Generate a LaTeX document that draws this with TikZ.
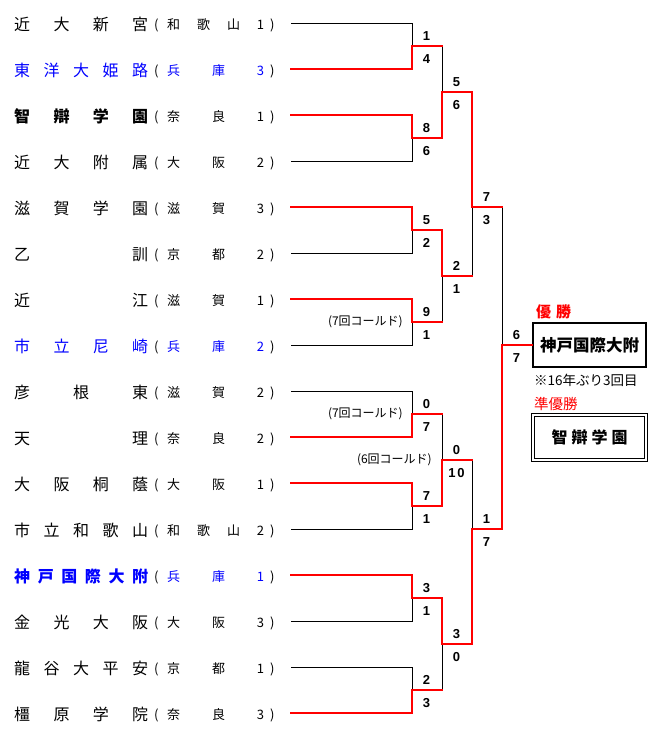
\documentclass[tikz,border=0pt]{standalone}
\usepackage{fontspec}
\newfontfamily\jp{Noto Sans CJK JP}
\newfontfamily\numf{Liberation Sans}
\definecolor{wred}{RGB}{255,0,0}
\definecolor{wblue}{RGB}{0,0,255}
\tikzset{
  lose/.style={draw=black, line width=1pt},
  win/.style={draw=wred, line width=2pt, line cap=rect},
  score/.style={font=\numf\bfseries\fontsize{13}{13}\selectfont, inner sep=0pt, anchor=center},
  tname/.style={font=\jp\fontsize{16}{16}\selectfont, inner sep=0pt, anchor=base west},
  tnameb/.style={font=\jp\bfseries\fontsize{16}{16}\selectfont, inner sep=0pt, anchor=base west},
  tpref/.style={font=\jp\fontsize{13}{13}\selectfont, inner sep=0pt, anchor=base west},
  cold/.style={font=\jp\fontsize{12}{12}\selectfont, inner sep=0pt, anchor=east},
  champbox/.style={draw=black, line width=2pt, minimum width=113pt, minimum height=44pt, inner sep=0pt,
    font=\jp\bfseries\fontsize{16.5}{16.5}\selectfont},
  runnerbox/.style={draw=black, double, double distance=2pt, line width=1pt, minimum width=113pt,
    minimum height=45pt, inner sep=0pt, font=\jp\bfseries\fontsize{16}{16}\selectfont},
}
\newcommand\teamrow[6]{%
  \node[#6, text=#5] (n#1) at (14,#2+7.5) {\makebox[134pt][s]{#3}};
  \node[tpref] (p#1) at (154,#2+6.5) {\makebox[13pt][l]{(}\textcolor{#5}{\makebox[97pt][s]{#4}}\hspace{6pt})};
  \coordinate (s#1) at (291,#2);
}
\newcommand\scorepair[3]{%
  \node[score] (#1u) at ([shift={(14.5,-10)}]#1) {#2};
  \node[score] (#1d) at ([shift={(14.5,13)}]#1) {#3};
}
\begin{document}
\begin{tikzpicture}[x=1pt,y=-1pt]
\useasboundingbox (0,0) rectangle (666,742);
\fill[white] (0,0) rectangle (666,742);

\teamrow{1}{23}{近\hfil 大\hfil 新\hfil 宮}{和\hfil 歌\hfil 山\hfil 1}{black}{tname}
\teamrow{2}{69}{東\hfil 洋\hfil 大\hfil 姫\hfil 路}{兵\hfil 庫\hfil 3}{wblue}{tname}
\teamrow{3}{115}{智\hfil 辯\hfil 学\hfil 園}{奈\hfil 良\hfil 1}{black}{tnameb}
\teamrow{4}{161}{近\hfil 大\hfil 附\hfil 属}{大\hfil 阪\hfil 2}{black}{tname}
\teamrow{5}{207}{滋\hfil 賀\hfil 学\hfil 園}{滋\hfil 賀\hfil 3}{black}{tname}
\teamrow{6}{253}{乙\hfil 訓}{京\hfil 都\hfil 2}{black}{tname}
\teamrow{7}{299}{近\hfil 江}{滋\hfil 賀\hfil 1}{black}{tname}
\teamrow{8}{345}{市\hfil 立\hfil 尼\hfil 崎}{兵\hfil 庫\hfil 2}{wblue}{tname}
\teamrow{9}{391}{彦\hfil 根\hfil 東}{滋\hfil 賀\hfil 2}{black}{tname}
\teamrow{10}{437}{天\hfil 理}{奈\hfil 良\hfil 2}{black}{tname}
\teamrow{11}{483}{大\hfil 阪\hfil 桐\hfil 蔭}{大\hfil 阪\hfil 1}{black}{tname}
\teamrow{12}{529}{市\hfil 立\hfil 和\hfil 歌\hfil 山}{和\hfil 歌\hfil 山\hfil 2}{black}{tname}
\teamrow{13}{575}{神\hfil 戸\hfil 国\hfil 際\hfil 大\hfil 附}{兵\hfil 庫\hfil 1}{wblue}{tnameb}
\teamrow{14}{621}{金\hfil 光\hfil 大\hfil 阪}{大\hfil 阪\hfil 3}{black}{tname}
\teamrow{15}{667}{龍\hfil 谷\hfil 大\hfil 平\hfil 安}{京\hfil 都\hfil 1}{black}{tname}
\teamrow{16}{713}{橿\hfil 原\hfil 学\hfil 院}{奈\hfil 良\hfil 3}{black}{tname}

% junctions
\coordinate (a1) at (412,46);  \coordinate (a2) at (412,138);
\coordinate (a3) at (412,230); \coordinate (a4) at (412,322);
\coordinate (a5) at (412,414); \coordinate (a6) at (412,506);
\coordinate (a7) at (412,598); \coordinate (a8) at (412,690);
\coordinate (b1) at (442,92);  \coordinate (b2) at (442,276);
\coordinate (b3) at (442,460); \coordinate (b4) at (442,644);
\coordinate (c1) at (472,207); \coordinate (c2) at (472,529);
\coordinate (f) at (502,345);

% boxes
\node[champbox] (champ) at (589.5,345) {神戸国際大附};
\node[font=\jp\bfseries\fontsize{15}{15}\selectfont, text=wred, inner sep=0pt, anchor=west] (yusho) at (536,312) {優\hspace{5pt}勝};
\node[font=\jp\fontsize{13.5}{13.5}\selectfont, inner sep=0pt, anchor=west] (note) at (534,380) {※16年ぶり3回目};
\node[font=\jp\fontsize{14.5}{14.5}\selectfont, text=wred, inner sep=0pt, anchor=west] (jun) at (534,404) {準優勝};
\node[runnerbox] (runner) at (589.5,437.5) {\makebox[76pt][s]{智\hfil 辯\hfil 学\hfil 園}};

% round 1 losers
\draw[lose] (s1) -| (a1);
\draw[lose] (s4) -| (a2);
\draw[lose] (s6) -| (a3);
\draw[lose] (s8) -| (a4);
\draw[lose] (s9) -| (a5);
\draw[lose] (s12) -| (a6);
\draw[lose] (s14) -| (a7);
\draw[lose] (s15) -| (a8);
% round 2 losers
\draw[lose] (a1 -| b1) -- (b1);
\draw[lose] (a4 -| b2) -- (b2);
\draw[lose] (a5 -| b3) -- (b3);
\draw[lose] (a8 -| b4) -- (b4);
% round 3 losers
\draw[lose] (b2 -| c1) -- (c1);
\draw[lose] (b3 -| c2) -- (c2);
% final loser
\draw[lose] (c1 -| f) -- (f);

% round 1 winners
\draw[win] (s2) -| (a1) -- (a1 -| b1);
\draw[win] (s3) -| (a2) -- (a2 -| b1);
\draw[win] (s5) -| (a3) -- (a3 -| b2);
\draw[win] (s7) -| (a4) -- (a4 -| b2);
\draw[win] (s10) -| (a5) -- (a5 -| b3);
\draw[win] (s11) -| (a6) -- (a6 -| b3);
\draw[win] (s13) -| (a7) -- (a7 -| b4);
\draw[win] (s16) -| (a8) -- (a8 -| b4);
% round 2 winners
\draw[win] (a2 -| b1) -- (b1) -- (b1 -| c1);
\draw[win] (a3 -| b2) -- (b2) -- (b2 -| c1);
\draw[win] (a6 -| b3) -- (b3) -- (b3 -| c2);
\draw[win] (a7 -| b4) -- (b4) -- (b4 -| c2);
% round 3 winners
\draw[win] (b1 -| c1) -- (c1) -- (c1 -| f);
\draw[win] (b4 -| c2) -- (c2) -- (c2 -| f);
% final
\draw[win] (c2 -| f) -- (f) -- (champ.west);

% scores
\scorepair{a1}{1}{4}
\scorepair{a2}{8}{6}
\scorepair{a3}{5}{2}
\scorepair{a4}{9}{1}
\scorepair{a5}{0}{7}
\scorepair{a6}{7}{1}
\scorepair{a7}{3}{1}
\scorepair{a8}{2}{3}
\scorepair{b1}{5}{6}
\scorepair{b2}{2}{1}
\scorepair{b3}{0}{1\kern2pt0}
\scorepair{b4}{3}{0}
\scorepair{c1}{7}{3}
\scorepair{c2}{1}{7}
\scorepair{f}{6}{7}

% called games
\node[cold] (k1) at ([shift={(-9,0)}]a4) {(7回コールド)};
\node[cold] (k2) at ([shift={(-9,0)}]a5) {(7回コールド)};
\node[cold] (k3) at ([shift={(-10,0)}]b3) {(6回コールド)};
\end{tikzpicture}
\end{document}
